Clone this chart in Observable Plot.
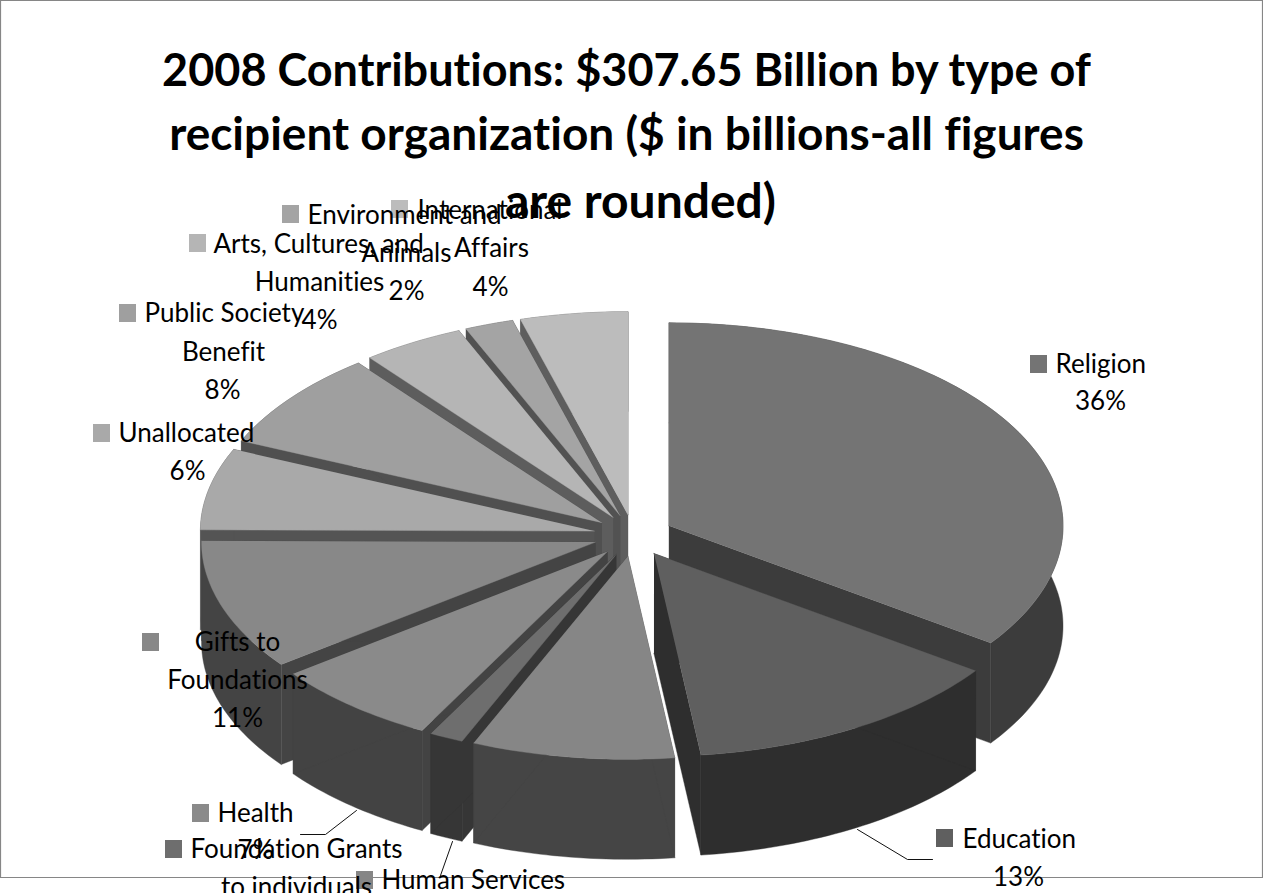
<!DOCTYPE html>
<html><head><meta charset="utf-8">
<script src="https://cdn.jsdelivr.net/npm/d3@7"></script>
<script src="https://cdn.jsdelivr.net/npm/@observablehq/plot@0.6"></script>
<style>html,body{margin:0;padding:0;background:#fff;overflow:hidden}svg{display:block}svg text{font-variant-ligatures:none}</style>
</head><body><div id="chart"></div>
<script>
// Data
const categories = ["Religion","Education","Human Services","Foundation Grants to individuals","Health","Gifts to Foundations","Unallocated","Public Society Benefit","Arts, Cultures, and Humanities","Environment and Animals","International Affairs"];
const shares = [34.8,13.3,8.3,1.4,6.9,10.4,6.5,7.8,4.2,2.0,4.4];
const titleLines = ["2008 Contributions: $307.65 Billion by type of","recipient organization ($ in billions-all figures","are rounded)"];

// Styles
const topShades  = ["#747474","#5f5f5f","#868686","#6e6e6e","#8a8a8a","#888888","#a9a9a9","#9f9f9f","#b5b5b5","#a4a4a4","#bcbcbc"];
const wallShades = ["#3c3c3c","#2e2e2e","#454545","#363636","#434343","#444444","#545454","#505050","#5d5d5d","#525252","#5e5e5e"];
const paintOrder = [10,9,8,7,6,5,4,3,2,0,1];

// Pie layout
const pie = {cx:633,cy:535,rx:394,ry:203,ex:40,ey:21,depth:100};
const cumulative = d3.cumsum(shares);
const total = d3.sum(shares);
const polygons = [];
paintOrder.forEach(i => {
  const a0 = (cumulative[i]-shares[i])/total*2*Math.PI, a1 = cumulative[i]/total*2*Math.PI, mid=(a0+a1)/2;
  const ax = pie.cx+pie.ex*Math.sin(mid), ay = pie.cy-pie.ey*Math.cos(mid);
  const n = Math.max(4,Math.ceil((a1-a0)/0.02));
  const arc = d3.range(n+1).map(k=>{const t=a0+(a1-a0)*k/n;return [ax+pie.rx*Math.sin(t),ay-pie.ry*Math.cos(t)];});
  const add=(id,fill,pts)=>pts.forEach(([x,y])=>polygons.push({id:i+id,fill,x,y}));
  const down=p=>[p[0],p[1]+pie.depth];
  const c=wallShades[i];
  add("-outer",c,[...arc,...arc.slice().reverse().map(down)]);
  add("-start",c,[[ax,ay],arc[0],down(arc[0]),[ax,ay+pie.depth]]);
  add("-end",c,[[ax,ay],arc[n],down(arc[n]),[ax,ay+pie.depth]]);
  add("-top",topShades[i],[[ax,ay],...arc]);
});

// Label layout: text rows
const textFont = "Lato";
const labelStart = [
 {t:"Religion",x:1055,y:364},{t:"Education",x:962,y:839},{t:"Human Services",x:381,y:880},{t:"Foundation Grants",x:190,y:849},
 {t:"Health",x:217,y:813},{t:"Unallocated",x:118,y:433},{t:"Public Society",x:144,y:313},{t:"Arts, Cultures, and",x:213,y:244},
 {t:"Environment and",x:307,y:215},{t:"International",x:417,y:210}];
const labelMiddle = [
 {t:"36%",x:1100,y:401},{t:"13%",x:1018,y:877},{t:"to individuals",x:296,y:887},{t:"7%",x:255,y:850},
 {t:"Gifts to",x:237,y:642},{t:"Foundations",x:237,y:680},{t:"11%",x:237,y:718},{t:"6%",x:187,y:471},
 {t:"Benefit",x:223,y:352},{t:"8%",x:222,y:390},{t:"Humanities",x:319,y:282},{t:"4%",x:319,y:320},
 {t:"Animals",x:406,y:253},{t:"2%",x:406,y:291},{t:"Affairs",x:491,y:248},{t:"4%",x:490,y:287}];
const swatches = [
 {i:0,x:1030,y:355},{i:1,x:936,y:829},{i:2,x:356,y:871},{i:3,x:165,y:840},{i:4,x:192,y:804},{i:5,x:142,y:633},
 {i:6,x:93,y:424},{i:7,x:119,y:304},{i:8,x:189,y:234},{i:9,x:282,y:205},{i:10,x:391,y:200}];
const titleRows = [{x:626,y:71,s:45},{x:626,y:135,s:46},{x:640,y:202,s:48}].map((p,i)=>({...p,t:titleLines[i]}));
const frame = [[0,0],[1262,0],[1262,877],[0,877],[0,0]];
const leaders = [
 {id:"e",x:857,y:829},{id:"e",x:907,y:859},{id:"e",x:932,y:859},
 {id:"h",x:356,y:810},{id:"h",x:325,y:834},{id:"h",x:300,y:834},
 {id:"s",x:452,y:841},{id:"s",x:440,y:875}];

const chart = Plot.plot({
  width:1263,height:893,margin:0,
  x:{domain:[0,1263],range:[0,1263],axis:null},
  y:{domain:[0,893],range:[0,893],axis:null},
  style:{background:"#fff"},
  marks:[
    Plot.line(frame,{x:d=>d[0],y:d=>d[1],stroke:"#868686",strokeWidth:1.2}),
    Plot.line(polygons,{x:"x",y:"y",z:"id",fill:"fill",stroke:"fill",strokeWidth:0.4,curve:"linear"}),
    Plot.line(leaders,{x:"x",y:"y",z:"id",stroke:"#111",strokeWidth:1}),
    Plot.text(titleRows,{x:"x",y:"y",text:"t",fontFamily:textFont,fontWeight:700,fontSize:d=>d.s,fill:"#000",lineAnchor:"middle"}),
    Plot.rect(swatches,{x1:"x",x2:d=>d.x+17,y1:"y",y2:d=>d.y+18,fill:d=>topShades[d.i]}),
    Plot.text(labelStart,{x:"x",y:"y",text:"t",textAnchor:"start",fontFamily:textFont,fontSize:26,fill:"#000",lineAnchor:"middle"}),
    Plot.text(labelMiddle,{x:"x",y:"y",text:"t",textAnchor:"middle",fontFamily:textFont,fontSize:26,fill:"#000",lineAnchor:"middle"})
  ]
});
document.getElementById("chart").append(chart);
</script></body></html>
